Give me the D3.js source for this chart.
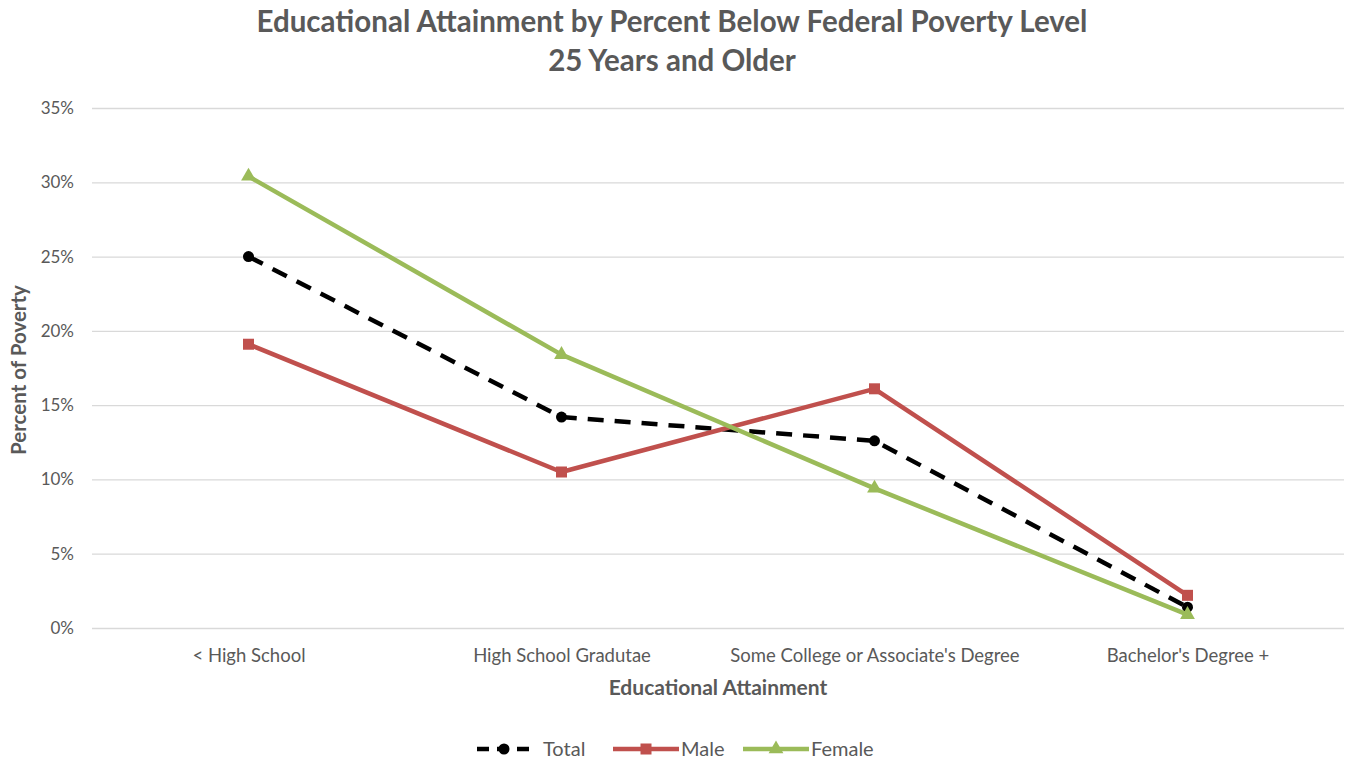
<!DOCTYPE html>
<html>
<head>
<meta charset="utf-8">
<script src="https://cdn.jsdelivr.net/npm/d3@7"></script>
<style>
  html, body { margin: 0; padding: 0; background: #fff; }
  svg { display: block; font-family: Lato, "Open Sans", sans-serif; }
</style>
</head>
<body>
<svg id="chart" width="1352" height="763"></svg>
<script>
// Education levels along the x axis
const categories = ["< High School", "High School Gradutae", "Some College or Associate's Degree", "Bachelor's Degree +"];

// Percent below the federal poverty level, age 25+
const totalValues  = [25.0, 14.2, 12.6, 1.4];
const maleValues   = [19.1, 10.5, 16.1, 2.2];
const femaleValues = [30.4, 18.4, 9.4, 0.9];

const yTicks = [0, 5, 10, 15, 20, 25, 30, 35];

const seriesNames = ["Total", "Male", "Female"];

const series = [
  { name: seriesNames[0], values: totalValues,  color: "#000000", dash: "16,11", marker: "circle" },
  { name: seriesNames[1], values: maleValues,   color: "#c0504d", dash: null,    marker: "square" },
  { name: seriesNames[2], values: femaleValues, color: "#9bbb59", dash: null,    marker: "triangle" }
];

const svg = d3.select("#chart");
const plot = { left: 92, right: 1344, top: 108, bottom: 628 };

const x = d3.scalePoint().domain(categories).range([plot.left, plot.right]).padding(0.5);
const y = d3.scaleLinear().domain([0, 35]).range([plot.bottom, plot.top]);

const textGray = "#595959";
const font = "Lato, 'Open Sans', sans-serif";

// Title
svg.append("text").attr("x", 672).attr("y", 32).attr("text-anchor", "middle")
  .attr("font-size", 29.5).attr("font-weight", "bold").attr("fill", textGray)
  .text("Educational Attainment by Percent Below Federal Poverty Level");
svg.append("text").attr("x", 672).attr("y", 71).attr("text-anchor", "middle")
  .attr("font-size", 29.5).attr("font-weight", "bold").attr("fill", textGray)
  .text("25 Years and Older");

// Horizontal gridlines + y tick labels
const yAxis = d3.axisLeft(y).tickValues(yTicks).tickSize(-(plot.right - plot.left))
  .tickFormat(d => d + "%").tickPadding(18);
const yg = svg.append("g").attr("transform", `translate(${plot.left},0)`).call(yAxis);
yg.select(".domain").remove();
yg.selectAll(".tick line").attr("stroke", "#d9d9d9").attr("stroke-width", 1.3);
yg.selectAll(".tick text").attr("font-size", 17).attr("fill", textGray).attr("font-family", font);

// Category labels
const xAxis = d3.axisBottom(x).tickSize(0).tickPadding(21);
const xg = svg.append("g").attr("transform", `translate(0,${plot.bottom})`).call(xAxis);
xg.select(".domain").remove();
xg.selectAll(".tick text").attr("font-size", 18.5).attr("fill", textGray).attr("font-family", font);

// Axis titles
svg.append("text").attr("x", 718).attr("y", 695).attr("text-anchor", "middle")
  .attr("font-size", 21).attr("font-weight", "bold").attr("fill", textGray)
  .text("Educational Attainment");
svg.append("text").attr("transform", "translate(26,370) rotate(-90)").attr("text-anchor", "middle")
  .attr("font-size", 20.5).attr("font-weight", "bold").attr("fill", textGray)
  .text("Percent of Poverty");

const line = d3.line().x((d, i) => x(categories[i])).y(d => y(d));

function drawMarker(g, type, cx, cy, color) {
  if (type === "circle") {
    g.append("circle").attr("cx", cx).attr("cy", cy).attr("r", 5.5).attr("fill", color);
  } else if (type === "square") {
    g.append("rect").attr("x", cx - 5.5).attr("y", cy - 5.5).attr("width", 11).attr("height", 11).attr("fill", color);
  } else {
    g.append("path").attr("d", d3.symbol(d3.symbolTriangle, 95)()).attr("transform", `translate(${cx},${cy})`).attr("fill", color);
  }
}

// Lines in the order Total, Male, Female (Female on top)
series.forEach(s => {
  const g = svg.append("g");
  g.append("path").datum(s.values).attr("d", line)
    .attr("fill", "none").attr("stroke", s.color).attr("stroke-width", 4.5)
    .attr("stroke-dasharray", s.dash).attr("stroke-linejoin", "round");
  s.values.forEach((v, i) => drawMarker(g, s.marker, x(categories[i]), y(v), s.color));
});

// Legend
const legendItems = [
  { s: series[0], x0: 477, x1: 531, tx: 543 },
  { s: series[1], x0: 613, x1: 679, tx: 681 },
  { s: series[2], x0: 743, x1: 809, tx: 811 }
];
const ly = 749;
legendItems.forEach(it => {
  const g = svg.append("g");
  g.append("line").attr("x1", it.x0).attr("x2", it.x1).attr("y1", ly).attr("y2", ly)
    .attr("stroke", it.s.color).attr("stroke-width", 4.5)
    .attr("stroke-dasharray", it.s.dash ? "12,8" : null);
  drawMarker(g, it.s.marker, (it.x0 + it.x1) / 2, ly, it.s.color);
  g.append("text").attr("x", it.tx).attr("y", ly + 7).attr("font-size", 20).attr("fill", textGray)
    .attr("font-family", font).text(it.s.name);
});
</script>
</body>
</html>
